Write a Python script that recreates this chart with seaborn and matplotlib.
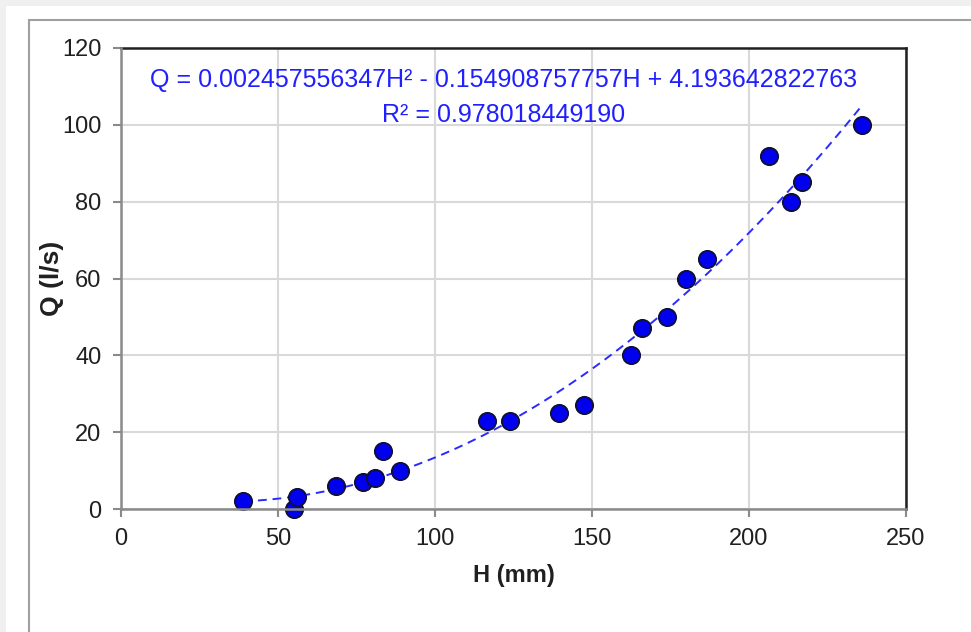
import matplotlib
matplotlib.use("Agg")
import matplotlib.pyplot as plt
import seaborn as sns
import pandas as pd
from matplotlib.patches import Rectangle
from matplotlib.lines import Line2D

# ── Data ────────────────────────────────────────────────────
h_mm = [39, 55, 56, 68.5, 77, 81, 83.5, 89, 116.5, 124, 139.5, 147.5,
        162.5, 166, 174, 180, 186.5, 206.5, 213.5, 217, 236]
q_ls = [2, 0, 3, 6, 7, 8, 15, 10, 23, 23, 25, 27,
        40, 47, 50, 60, 65, 92, 80, 85, 100]

eq_text = "Q = 0.002457556347H² - 0.154908757757H + 4.193642822763"
r2_text = "R² = 0.978018449190"

df = pd.DataFrame({"H": h_mm, "Q": q_ls})

# ── Style ───────────────────────────────────────────────────
sns.set_style("white")
plt.rcParams['font.family'] = ['Liberation Sans', 'DejaVu Sans']

fig = plt.figure(figsize=(9.71, 6.32), dpi=100)
fig.patch.set_facecolor('#f0f0f0')

# white panel + gray chart border (Excel-like frame)
fig.patches.append(Rectangle((6 / 971, 0), 1, 1 - 6 / 632, transform=fig.transFigure,
                             facecolor='white', edgecolor='none', zorder=-2))
fig.add_artist(Line2D([29 / 971, 1], [1 - 20 / 632, 1 - 20 / 632],
                      transform=fig.transFigure, color='#a0a0a0', lw=1.5))
fig.add_artist(Line2D([29 / 971, 29 / 971], [0, 1 - 20 / 632],
                      transform=fig.transFigure, color='#a0a0a0', lw=1.5))

ax = fig.add_axes([121 / 971, 123 / 632, 785 / 971, 461 / 632])
ax.set_facecolor('white')

# ── Trend line (2nd order fit) + points ─────────────────────
sns.regplot(data=df, x='H', y='Q', order=2, ci=None, scatter=False,
            truncate=True, ax=ax,
            line_kws=dict(color='#2a2aff', lw=1.4, ls=(0, (4.5, 3)), zorder=2))
sns.scatterplot(data=df, x='H', y='Q', ax=ax, s=155, color='#0000ee',
                edgecolor='#101030', linewidth=1.3, zorder=3, clip_on=False)

ax.set_xlim(0, 250)
ax.set_ylim(0, 120)
ax.set_xticks(range(0, 251, 50))
ax.set_yticks(range(0, 121, 20))

ax.grid(True, color='#d9d9d9', lw=1.5)
ax.set_axisbelow(True)

for side in ['top', 'right']:
    ax.spines[side].set_color('#202020')
    ax.spines[side].set_linewidth(1.8)
for side in ['left', 'bottom']:
    ax.spines[side].set_color('#8a8a8a')
    ax.spines[side].set_linewidth(1.8)
    ax.spines[side].set_zorder(4)

ax.tick_params(axis='both', direction='out', length=6, width=1.5,
               color='#8a8a8a', labelsize=17, pad=8, labelcolor='#202020',
               left=True, bottom=True)

ax.set_xlabel('H (mm)', fontsize=17, fontweight='bold', labelpad=10, color='#202020')
ax.set_ylabel('Q (l/s)', fontsize=19, fontweight='bold', labelpad=-1, color='#202020')

ax.text(0.487, 0.931, eq_text, transform=ax.transAxes, ha='center', va='center',
        fontsize=18, color='#2020ff')
ax.text(0.487, 0.855, r2_text, transform=ax.transAxes, ha='center', va='center',
        fontsize=18, color='#2020ff')

plt.savefig('out.png', dpi=100, facecolor=fig.get_facecolor())
